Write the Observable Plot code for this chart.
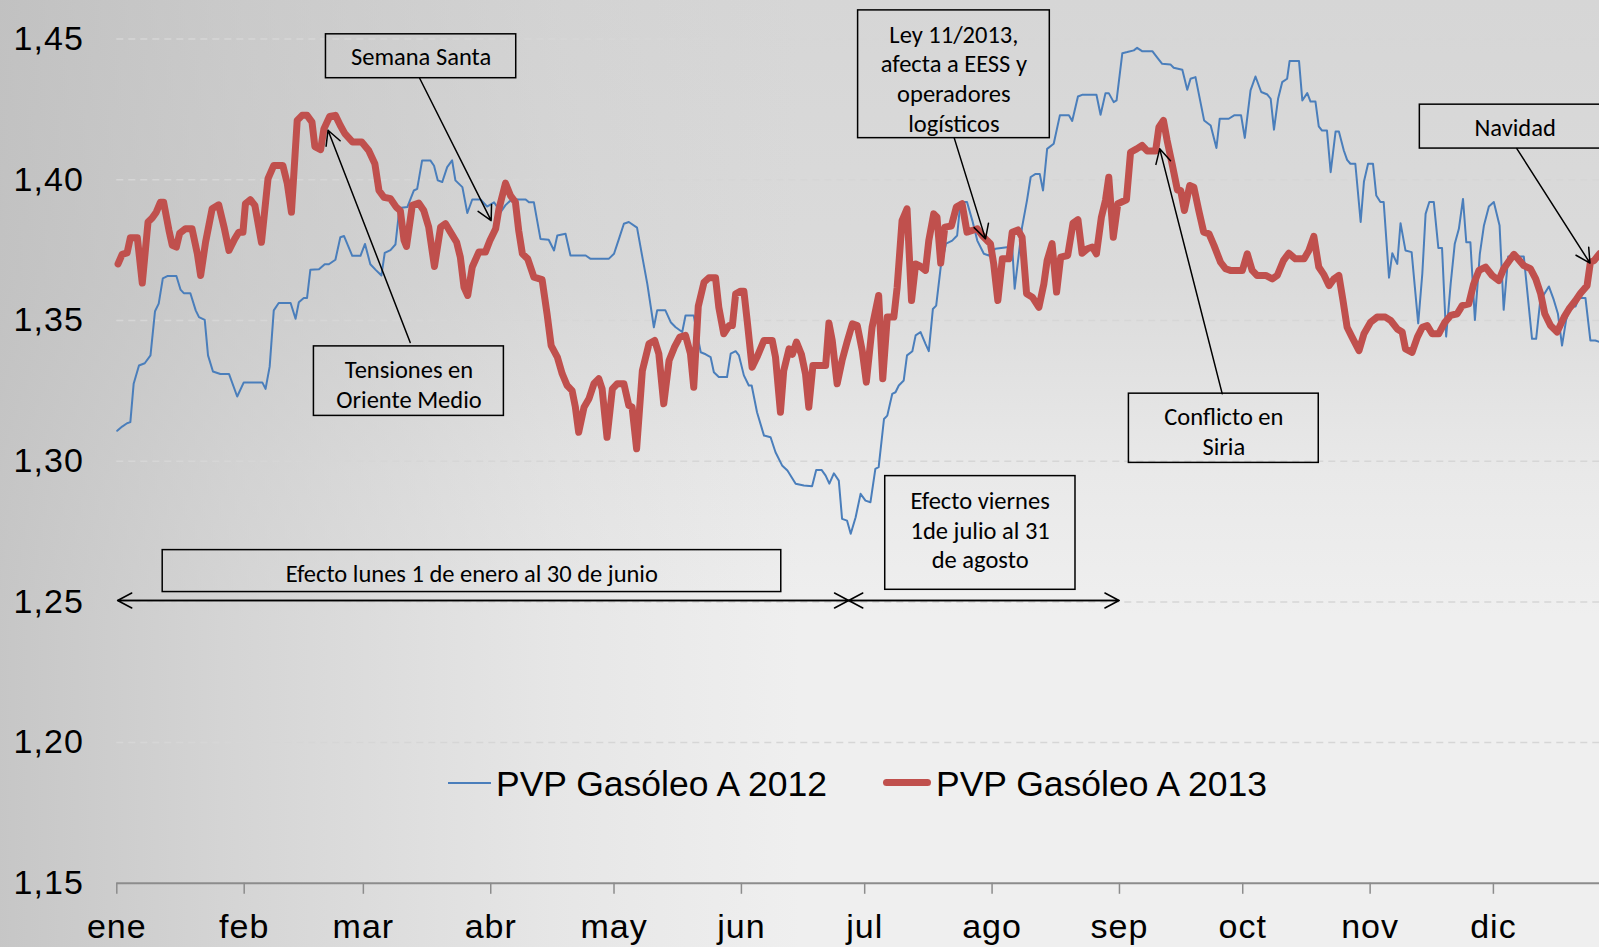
<!DOCTYPE html>
<html>
<head>
<meta charset="utf-8">
<script src="https://cdn.jsdelivr.net/npm/d3@7"></script>
<script src="https://cdn.jsdelivr.net/npm/@observablehq/plot@0.6"></script>
<style>
html, body { margin: 0; padding: 0; overflow: hidden; }
body {
  width: 1599px; height: 947px; position: relative;
  background-color: #efefef;
  background-image:
    linear-gradient(to right, rgba(188,188,188,0.8) 0%, rgba(192,192,192,0.55) 15%, rgba(200,200,200,0.22) 35%, rgba(200,200,200,0) 50%),
    linear-gradient(to bottom, #d6d6d6 0%, #dbdbdb 30%, #e9e9e9 50%, #efefef 65%, #efefef 100%);
}
#chart svg { display: block; }
g[aria-label="x-axis tick label"], g[aria-label="y-axis tick label"] { letter-spacing: 1px; }
.lg-text { position: absolute; font-family: "Liberation Sans", Arial, sans-serif; font-size: 35.5px; line-height: 36px; color: #000; white-space: nowrap; }
.lg-swatch { position: absolute; }
</style>
</head>
<body>
<div id="chart"></div>
<div id="legend"></div>
<script>
// ---- Data (day of year on a 2012 calendar axis, price €/l) ----
const gasoleo2012 = [
[0.1,1.3108],[1.3,1.3123],[2.5,1.3135],[3.3,1.3139],[4.1,1.3275],[5.4,1.334],[6.8,1.3348],[8.2,1.3376],[9.3,1.3533],[10.2,1.356],[11.2,1.365],[12.3,1.3658],[14.5,1.3658],[15.5,1.361],[16.3,1.3597],[17.9,1.3597],[19.2,1.3536],[20.0,1.3512],[21.4,1.3502],[22.2,1.3376],[23.4,1.3319],[25.2,1.331],[27.3,1.331],[29.3,1.323],[30.9,1.328],[35.4,1.328],[36.2,1.3257],[37.2,1.3336],[38.2,1.3536],[39.4,1.3562],[42.3,1.3562],[43.5,1.3506],[44.3,1.3565],[45.5,1.358],[46.3,1.358],[47.1,1.368],[49.2,1.3682],[50.6,1.370],[51.6,1.370],[53.2,1.3716],[54.4,1.3796],[55.3,1.380],[57.3,1.373],[59.3,1.373],[60.4,1.3772],[61.7,1.370],[63.0,1.368],[64.4,1.366],[65.2,1.374],[66.6,1.375],[67.8,1.377],[68.8,1.390],
[70.7,1.3903],[72.3,1.3962],[73.1,1.3968],[74.3,1.4069],[76.3,1.4069],[77.2,1.405],[78.1,1.3998],[79.2,1.3992],[80.4,1.4045],[81.6,1.4069],[82.4,1.3998],[84.1,1.3974],[85.3,1.3882],[86.5,1.393],[88.5,1.393],[90.1,1.3905],[91.8,1.392],[93.4,1.3885],[94.6,1.391],[96.2,1.3932],[97.8,1.393],[99.5,1.393],[100.3,1.392],[101.5,1.392],[103.1,1.379],[105.1,1.3787],[106.4,1.3749],[107.2,1.3802],[109.2,1.3808],[110.4,1.3731],[114.1,1.3731],[115.3,1.3719],[119.7,1.3719],[121.0,1.3737],[122.2,1.379],[123.4,1.3844],[124.6,1.385],[126.6,1.383],[127.9,1.3725],[129.1,1.363],[130.7,1.3476],[131.5,1.3536],[133.5,1.3536],[134.8,1.3494],[136.0,1.3476],[137.6,1.3459],[138.4,1.3518],[140.4,1.3518],
[141.2,1.3453],[142.1,1.3387],[143.3,1.338],[144.5,1.337],[145.3,1.3316],[146.5,1.3299],[148.5,1.3299],[149.4,1.3382],[150.6,1.3391],[151.4,1.3376],[152.6,1.3305],[153.8,1.3269],[154.5,1.3269],[155.8,1.3174],[157.5,1.3091],[159.1,1.3085],[160.3,1.3032],[161.9,1.2985],[163.2,1.2967],[165.2,1.292],[167.2,1.2914],[169.2,1.2911],[170.2,1.2969],[171.5,1.2969],[172.5,1.2949],[173.4,1.292],[174.5,1.2957],[175.7,1.2931],[176.5,1.2795],[177.7,1.2789],[178.6,1.2742],[179.8,1.2801],[181.0,1.2884],[182.2,1.286],[183.4,1.2854],[184.6,1.2973],[185.4,1.2979],[186.7,1.315],[187.5,1.3162],[188.7,1.3239],[189.5,1.3245],[190.3,1.3269],[191.5,1.3287],[192.3,1.3376],[193.6,1.3391],[194.4,1.3447],[195.6,1.3459],[196.8,1.3417],[197.6,1.3391],[198.6,1.3541],[199.4,1.3553],[200.5,1.369],[201.8,1.3773],[203.3,1.3784],[204.5,1.3802],[205.3,1.3921],[206.9,1.3921],[208.2,1.3855],[209.4,1.3784],[211.0,1.3737],[212.2,1.3731],
[213.8,1.3755],[217.1,1.3761],[217.9,1.3761],[218.5,1.3613],[220.3,1.3832],[221.5,1.3927],[222.4,1.401],[223.6,1.4021],[224.6,1.4021],[225.4,1.3962],[226.4,1.411],[228.0,1.4128],[229.5,1.4229],[231.7,1.4229],[232.5,1.4209],[233.9,1.4296],[234.9,1.4302],[238.4,1.4302],[239.4,1.4231],[240.6,1.4308],[241.4,1.4308],[242.6,1.4276],[243.3,1.4282],[244.7,1.445],[245.9,1.4454],[247.5,1.446],[248.3,1.4469],[249.5,1.4457],[252.0,1.4457],[253.2,1.4434],[254.4,1.4412],[256.4,1.441],[257.2,1.4398],[259.3,1.4391],[260.5,1.432],[261.3,1.4359],[262.5,1.4365],[264.6,1.4211],[266.2,1.4193],[267.6,1.4113],[268.4,1.4217],[270.6,1.4217],[271.9,1.4229],[273.6,1.4229],[274.5,1.4149],[275.9,1.4318],[277.1,1.4367],[278.5,1.4312],[280.0,1.4303],[280.8,1.4288],[281.6,1.4178],[282.6,1.4288],[283.6,1.4347],[284.8,1.4359],
[285.4,1.4422],[287.7,1.4422],[288.5,1.4282],[289.7,1.4308],[290.5,1.4278],[291.7,1.4278],[292.5,1.419],[293.3,1.4175],[294.5,1.4175],[295.4,1.4027],[296.6,1.4172],[297.4,1.4172],[298.6,1.4104],[299.4,1.4071],[300.2,1.4057],[301.4,1.4057],[302.7,1.385],[303.5,1.3994],[304.5,1.4057],[305.7,1.4057],[306.5,1.3944],[307.5,1.3921],[308.3,1.3921],[309.6,1.3652],[310.4,1.3739],[311.6,1.3701],[312.4,1.3846],[313.6,1.3749],[315.1,1.3743],[316.7,1.349],[317.7,1.3666],[318.5,1.3879],[319.4,1.3921],[320.5,1.3921],[321.6,1.3758],[322.5,1.3758],[323.5,1.3443],[324.6,1.363],[325.6,1.3773],[326.6,1.3826],[327.6,1.3932],[328.4,1.3778],[329.4,1.3778],[330.5,1.3502],[331.7,1.3737],[332.7,1.3838],[333.9,1.3905],[335.1,1.3921],[336.5,1.3838],[337.5,1.3538],[338.6,1.3727],[342.4,1.3727],[344.4,1.3435],[345.4,1.3435],[346.4,1.3571],[348.5,1.3621],[349.7,1.3573],[350.7,1.3524],[351.7,1.3411],[352.7,1.3502],[353.7,1.355],[355.0,1.355],[355.8,1.358],[357.4,1.358],[358.6,1.3429],[359.8,1.3429],[360.8,1.3424]
];

const gasoleo2013 = [
[0.3,1.3701],[1.3,1.3735],[2.5,1.374],[3.3,1.3794],[5.0,1.3794],[6.2,1.3633],[7.6,1.385],[8.6,1.3864],[9.6,1.3885],[10.6,1.392],[11.4,1.392],[12.7,1.382],[13.5,1.3767],[14.5,1.3761],[15.3,1.381],[16.7,1.3826],[18.3,1.3826],[19.6,1.3737],[20.4,1.366],[21.6,1.3778],[23.2,1.3897],[24.8,1.3911],[26.1,1.3832],[27.3,1.3749],[28.7,1.379],[29.7,1.3814],[30.7,1.3814],[31.3,1.3915],[32.5,1.3929],[33.6,1.3909],[35.2,1.3778],[36.8,1.4004],[38.2,1.4051],[40.4,1.4051],[41.5,1.3986],[42.5,1.3885],[43.9,1.4211],[45.1,1.4229],[46.3,1.4229],[47.5,1.4205],[48.2,1.4118],[49.6,1.4107],[50.4,1.4181],[51.8,1.4225],[53.2,1.4229],[54.4,1.4193],[55.5,1.4164],[57.4,1.4134],[59.6,1.4134],[61.3,1.4104],[62.8,1.4057],[63.8,1.3962],[65.0,1.3938],[66.6,1.3933],[68.0,1.3903],[69.0,1.389],[69.9,1.3785],[70.5,1.3763],[71.9,1.3909],[73.5,1.3917],[74.7,1.3891],[75.9,1.3832],[77.3,1.3692],[78.8,1.3832],[80.0,1.3844],[81.2,1.3814],[82.7,1.3778],[83.6,1.3725],[84.5,1.3618],[85.4,1.3589],[86.5,1.369],[88.1,1.3743],[89.7,1.3743],[90.8,1.3784],[92.2,1.3826],[93.0,1.3897],[94.6,1.3988],[95.8,1.3944],[97.0,1.3921],[97.8,1.382],[98.7,1.3737],[100.0,1.3719],[101.5,1.3654],[103.5,1.3645],[104.7,1.3524],[105.7,1.3411],[107.2,1.337],[108.4,1.331],[109.6,1.3269],[110.8,1.3251],[111.6,1.3192],[112.4,1.3103],[113.7,1.3192],[114.9,1.3222],[116.1,1.3275],[117.3,1.3293],[118.1,1.3257],[119.3,1.3085],[120.6,1.3257],[121.8,1.3275],[123.4,1.3275],[124.6,1.3198],[125.4,1.3192],[126.5,1.3044],[127.9,1.3322],[129.5,1.3417],[130.9,1.3429],[131.9,1.3382],[133.1,1.3204],[134.4,1.3358],[135.7,1.3405],[137.0,1.3441],[138.4,1.3447],[139.6,1.3382],[140.4,1.3263],[141.5,1.355],[142.9,1.3636],[144.1,1.3652],[145.7,1.3652],[146.5,1.3547],[147.7,1.3453],[149.0,1.3482],[149.8,1.3482],[150.6,1.3595],[151.8,1.3604],[152.6,1.3604],[153.4,1.35],[154.6,1.3334],[155.8,1.337],[157.5,1.3429],[159.5,1.3429],[160.3,1.337],[161.5,1.3174],[162.3,1.3322],[163.6,1.3399],[164.4,1.338],[165.4,1.3423],[166.6,1.338],[167.6,1.331],[168.4,1.3192],[169.4,1.334],[172.5,1.334],[173.3,1.3491],[174.1,1.3429],[175.3,1.3275],[176.5,1.3358],[177.7,1.3423],[179.0,1.3488],[180.2,1.3482],[181.4,1.3393],[182.4,1.3281],[183.8,1.3476],[185.4,1.3589],[186.4,1.3293],[187.5,1.3512],[189.1,1.3512],[189.9,1.3618],[191.1,1.3855],[192.3,1.3897],[193.4,1.3571],[194.4,1.3701],[195.3,1.3695],[196.8,1.3678],[197.6,1.3784],[198.8,1.3879],[199.6,1.3867],[200.5,1.3704],[201.5,1.3832],[203.1,1.3836],[204.3,1.3903],[205.7,1.3915],[206.9,1.3814],[208.2,1.382],[209.4,1.3826],[210.6,1.3802],[211.8,1.3784],[212.6,1.3773],[213.4,1.3701],[214.4,1.3571],[215.5,1.3719],[217.1,1.3719],[217.9,1.3814],[219.3,1.3822],[220.3,1.3796],[221.4,1.3595],[222.8,1.3583],[224.4,1.3547],[225.6,1.363],[226.4,1.3713],[227.6,1.3773],[228.7,1.3601],[229.7,1.3725],[231.4,1.3731],[232.7,1.3846],[233.9,1.3858],[234.9,1.3739],[236.2,1.3755],[237.4,1.3761],[238.4,1.3737],[239.6,1.3867],[240.6,1.3927],[241.4,1.4009],[242.5,1.3796],[243.6,1.3915],[245.7,1.3929],[246.7,1.4098],[248.2,1.411],[249.5,1.4122],[250.8,1.4102],[252.8,1.4102],[253.6,1.4187],[254.7,1.4211],[255.6,1.414],[256.8,1.4057],[258.1,1.3964],[258.9,1.3962],[259.8,1.3891],[261.1,1.398],[262.1,1.3974],[263.3,1.3891],[264.5,1.3814],[265.8,1.3808],[267.0,1.3767],[268.6,1.3707],[269.8,1.3684],[271.0,1.3678],[273.9,1.3678],[275.1,1.3737],[276.3,1.3678],[277.5,1.366],[279.6,1.366],[281.2,1.3648],[282.4,1.366],[283.9,1.3713],[285.2,1.3739],[286.8,1.3719],[288.9,1.3719],[290.1,1.3749],[291.3,1.3799],[292.5,1.369],[293.7,1.3664],[295.0,1.3624],[296.2,1.3648],[297.4,1.366],[298.4,1.3571],[299.4,1.3476],[300.6,1.3441],[302.3,1.3393],[303.5,1.3453],[305.1,1.3494],[306.7,1.3512],[308.7,1.3512],[310.0,1.35],[311.6,1.347],[312.8,1.3459],[313.6,1.3399],[315.2,1.3387],[316.5,1.3441],[317.7,1.3476],[318.9,1.3482],[320.1,1.3453],[321.7,1.3453],[323.2,1.3494],[324.6,1.3518],[326.2,1.3524],[327.4,1.3553],[329.0,1.3559],[330.2,1.363],[331.5,1.3678],[333.1,1.369],[334.7,1.366],[336.3,1.3642],[337.5,1.3684],[338.9,1.3713],[340.0,1.3735],[341.0,1.3719],[342.4,1.3695],[344.0,1.3684],[345.3,1.3648],[346.5,1.3595],[347.5,1.3524],[348.9,1.3482],[350.5,1.3459],[352.2,1.3512],[353.4,1.3541],[355.0,1.3571],[356.2,1.3597],[357.8,1.3624],[358.6,1.3707],[359.5,1.3713],[360.8,1.3737]
];

const seriesNames = ["PVP Gasóleo A 2012", "PVP Gasóleo A 2013"];
const monthStarts = [0, 31, 60, 91, 121, 152, 182, 213, 244, 274, 305, 335];
const monthLabels = ["ene", "feb", "mar", "abr", "may", "jun", "jul", "ago", "sep", "oct", "nov", "dic"];
const yTicks = [1.15, 1.20, 1.25, 1.30, 1.35, 1.40, 1.45];
const gridValues = [1.20, 1.25, 1.30, 1.35, 1.40, 1.45];

// Annotation callouts (data units: day, price)
const calloutBoxes = [
  {x1: 50.9, x2: 97.2, y1: 1.4517, y2: 1.4361},
  {x1: 47.97, x2: 94.2, y1: 1.3408, y2: 1.3161},
  {x1: 180.4, x2: 227.05, y1: 1.4602, y2: 1.4148},
  {x1: 246.3, x2: 292.5, y1: 1.3240, y2: 1.2994},
  {x1: 317.1, x2: 363.5, y1: 1.4267, y2: 1.4111},
  {x1: 11.17, x2: 161.7, y1: 1.2684, y2: 1.2535},
  {x1: 187.0, x2: 233.3, y1: 1.2947, y2: 1.2543}
];
const calloutTexts = [
  {x: 74.05, y: 1.4442, text: "Semana Santa"},
  {x: 71.1, y: 1.3276, text: "Tensiones en\nOriente Medio"},
  {x: 203.7, y: 1.4363, text: "Ley 11/2013,\nafecta a EESS y\noperadores\nlogísticos"},
  {x: 269.4, y: 1.3110, text: "Conflicto en\nSiria"},
  {x: 340.3, y: 1.4188, text: "Navidad"},
  {x: 86.4, y: 1.2603, text: "Efecto lunes 1 de enero al 30 de junio"},
  {x: 210.1, y: 1.2758, text: "Efecto viernes\n1de julio al 31\nde agosto"}
];
const calloutArrows = [
  {x1: 73.7, y1: 1.4361, x2: 91.1, y2: 1.3855},
  {x1: 71.4, y1: 1.3422, x2: 51.4, y2: 1.4176},
  {x1: 203.8, y1: 1.4148, x2: 211.4, y2: 1.3790},
  {x1: 269.0, y1: 1.3240, x2: 253.8, y2: 1.4110},
  {x1: 340.7, y1: 1.4111, x2: 358.5, y2: 1.3704},
  // double-headed period arrows
  {x1: 178.1, y1: 1.2505, x2: 0.2, y2: 1.2505},
  {x1: 0.2, y1: 1.2505, x2: 178.1, y2: 1.2505},
  {x1: 178.1, y1: 1.2505, x2: 243.9, y2: 1.2505},
  {x1: 243.9, y1: 1.2505, x2: 178.1, y2: 1.2505}
];

const colors = ["#4A7EBB", "#C0504D"];
const fmt = d => d.toFixed(2).replace(".", ",");

const chart = Plot.plot({
  width: 1599,
  height: 947,
  marginLeft: 116.3,
  marginRight: 0,
  marginTop: 38.6,
  marginBottom: 64.2,
  style: {background: "transparent", fontFamily: "'Liberation Sans', Arial, sans-serif", fontSize: "34px", color: "#000", overflow: "hidden"},
  x: {domain: [0, 360.82]},
  y: {domain: [1.15, 1.45]},
  marks: [
    Plot.ruleY(gridValues, {stroke: "#d6d6d6", strokeWidth: 1.5, strokeDasharray: "7,5"}),
    Plot.ruleY([1.15], {stroke: "#8c8c8c", strokeWidth: 2}),
    Plot.axisX(monthStarts, {tickFormat: d => monthLabels[monthStarts.indexOf(d)], tickSize: 11, tickPadding: 20, stroke: "#8c8c8c", strokeWidth: 1.5, label: null}),
    Plot.axisY(yTicks, {tickFormat: fmt, tickSize: 0, tickPadding: 33, label: null}),
    Plot.line(gasoleo2012, {x: d => d[0], y: d => d[1], stroke: colors[0], strokeWidth: 2, strokeLinejoin: "round"}),
    Plot.line(gasoleo2013, {x: d => d[0], y: d => d[1], stroke: colors[1], strokeWidth: 7, strokeLinejoin: "round", strokeLinecap: "round"}),
    Plot.rect(calloutBoxes, {x1: "x1", x2: "x2", y1: "y1", y2: "y2", fill: "none", stroke: "#000", strokeWidth: 1.5}),
    Plot.text(calloutTexts, {x: "x", y: "y", text: "text", fontFamily: "Carlito, Lato, sans-serif", fontSize: 24.5, lineHeight: 1.21, textAnchor: "middle", lineAnchor: "middle", fill: "#000"}),
    Plot.arrow(calloutArrows, {x1: "x1", y1: "y1", x2: "x2", y2: "y2", stroke: "#000", strokeWidth: 1.5, headLength: 16, headAngle: 56})
  ]
});
document.getElementById("chart").appendChild(chart);

// Legend (inside plot area, as in the original)
const legend = document.getElementById("legend");
const legendItems = [
  {swatch: {left: 448, top: 782, width: 43, height: 2, radius: 0}, textLeft: 496},
  {swatch: {left: 883, top: 779, width: 48, height: 7, radius: 3.5}, textLeft: 936}
];
legendItems.forEach((item, i) => {
  const sw = document.createElement("div");
  sw.className = "lg-swatch";
  Object.assign(sw.style, {left: item.swatch.left + "px", top: item.swatch.top + "px", width: item.swatch.width + "px", height: item.swatch.height + "px", borderRadius: item.swatch.radius + "px", background: colors[i]});
  legend.appendChild(sw);
  const tx = document.createElement("div");
  tx.className = "lg-text";
  tx.style.left = item.textLeft + "px";
  tx.style.top = "766px";
  tx.textContent = seriesNames[i];
  legend.appendChild(tx);
});
</script>
</body>
</html>
